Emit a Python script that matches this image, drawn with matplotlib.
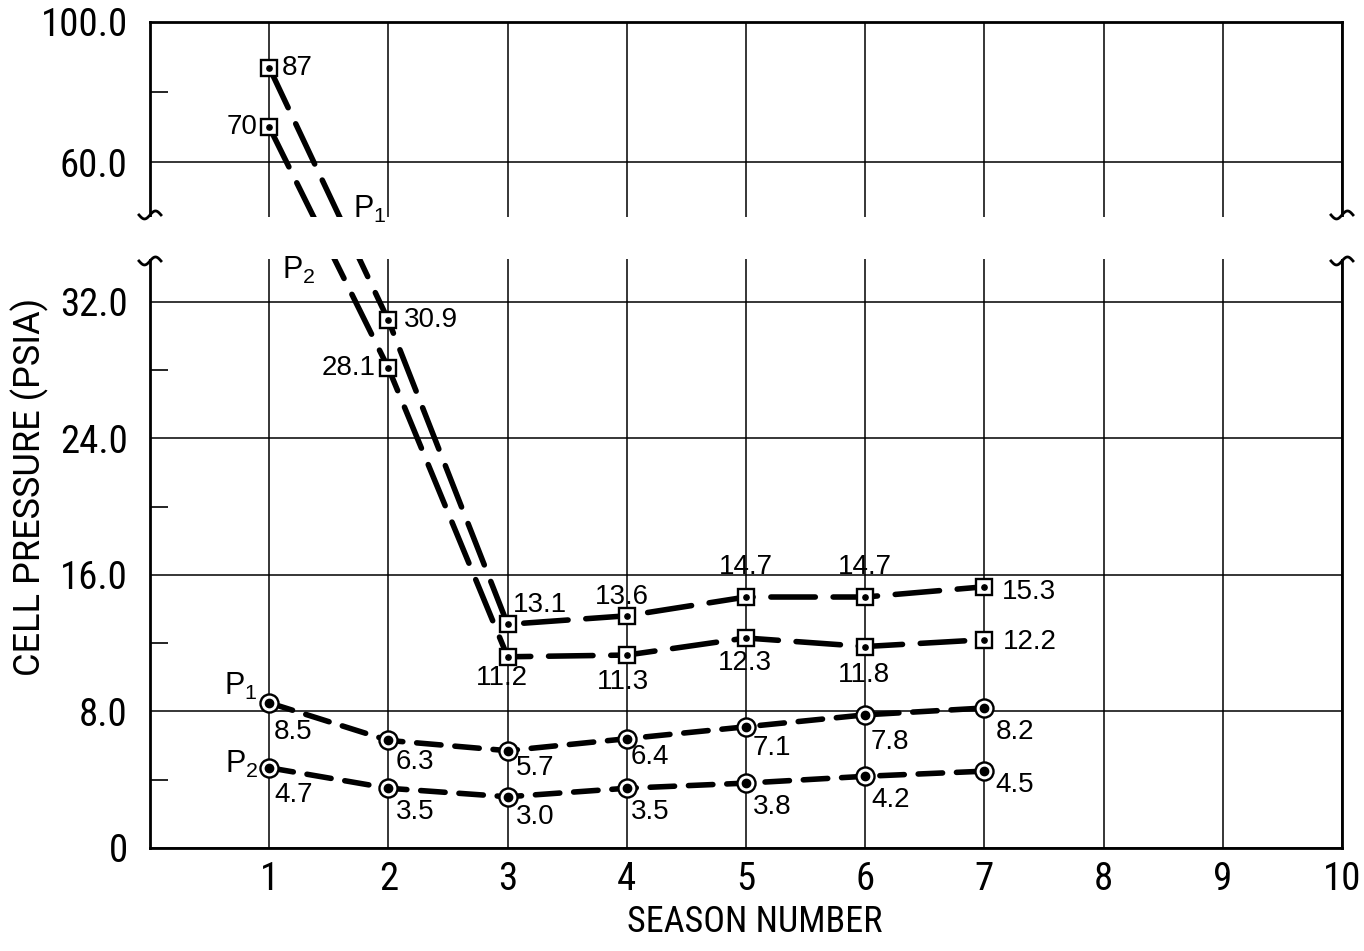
import numpy as np
import matplotlib
matplotlib.use("Agg")
import matplotlib.pyplot as plt
from matplotlib import font_manager

# Cell pressure per season, broken y axis (upper part compressed)
seasons = [1, 2, 3, 4, 5, 6, 7]
sq_p1 = [87, 30.9, 13.1, 13.6, 14.7, 14.7, 15.3]
sq_p2 = [70, 28.1, 11.2, 11.3, 12.3, 11.8, 12.2]
ci_p1 = [8.5, 6.3, 5.7, 6.4, 7.1, 7.8, 8.2]
ci_p2 = [4.7, 3.5, 3.0, 3.5, 3.8, 4.2, 4.5]

x_ticks = [1, 2, 3, 4, 5, 6, 7, 8, 9, 10]
y_ticks = [0, 8, 16, 24, 32, 60, 100]
y_tick_labels = ["0", "8.0", "16.0", "24.0", "32.0", "60.0", "100.0"]
y_minor = [4, 12, 20, 28, 80]

# axis break
BREAK_LO = 34.5
BREAK_HI = 44.3
GAP = 2.46
SQUEEZE = 0.205


def forward(v):
    v = np.asarray(v, dtype=float)
    mid = BREAK_LO + (v - BREAK_LO) * GAP / (BREAK_HI - BREAK_LO)
    hi = BREAK_LO + GAP + (v - BREAK_HI) * SQUEEZE
    return np.where(v <= BREAK_LO, v, np.where(v >= BREAK_HI, hi, mid))


def inverse(u):
    u = np.asarray(u, dtype=float)
    mid = BREAK_LO + (u - BREAK_LO) * (BREAK_HI - BREAK_LO) / GAP
    hi = BREAK_HI + (u - BREAK_LO - GAP) / SQUEEZE
    return np.where(u <= BREAK_LO, u, np.where(u >= BREAK_LO + GAP, hi, mid))


def fmt(v):
    return f"{v:.0f}" if v >= 50 else f"{v:.1f}"


def pick_font(cands, default):
    have = {f.name for f in font_manager.fontManager.ttflist}
    for c in cands:
        if c in have:
            return c
    return default


narrow = pick_font(["Roboto Condensed", "Liberation Sans Narrow", "Archivo Narrow",
                    "PT Sans Narrow", "Fira Sans Condensed", "IBM Plex Sans Condensed",
                    "Encode Sans Condensed", "Barlow Semi Condensed"], "Roboto")

# label offsets in pixels (dx, dy, ha)
sq_p1_off = [(13, 0, "left"), (15, 0, "left"), (5, 19, "left"), (-5, 19, "center"),
             (0, 30, "center"), (0, 30, "center"), (17, -5, "left")]
sq_p2_off = [(-12, 0, "right"), (-13, 0, "right"), (-6, -21, "center"), (-4, -27, "center"),
             (-1, -25, "center"), (-1, -28, "center"), (18, -2, "left")]
ci_p1_off = [(5, -29), (7, -22), (8, -17), (4, -18), (7, -21), (5, -27), (11, -24)]
ci_p2_off = [(5, -27), (7, -24), (8, -20), (4, -24), (7, -24), (6, -24), (11, -14)]

plt.rcParams["font.family"] = [narrow, "DejaVu Sans"]
plt.rcParams["mathtext.fontset"] = "custom"
plt.rcParams["mathtext.rm"] = "Liberation Sans"
val_font = dict(family=["Liberation Sans", "DejaVu Sans"], fontsize=20)

fig = plt.figure(figsize=(13.64, 9.51), dpi=100)
ax = fig.add_axes([150 / 1364, 103 / 951, 1192 / 1364, 826 / 951])
ax.set_yscale("function", functions=(forward, inverse))
ax.set_xlim(0, 10)
ax.set_ylim(0, 100)

ax.set_xticks(x_ticks)
ax.set_xticklabels([str(t) for t in x_ticks])
ax.set_yticks(y_ticks)
ax.set_yticklabels(y_tick_labels)
ax.set_yticks(y_minor, minor=True)
ax.tick_params(axis="both", which="major", length=0, labelsize=28)
ax.tick_params(axis="y", which="major", pad=16)
ax.tick_params(axis="x", which="major", pad=9)
ax.tick_params(axis="y", which="minor", direction="in", length=13, width=1.2,
               right=False)
ax.xaxis.set_minor_locator(matplotlib.ticker.NullLocator())
ax.grid(True, which="major", color="black", linewidth=1.1)
ax.set_axisbelow(True)
for s in ax.spines.values():
    s.set_linewidth(2.0)

line_kw = dict(color="black", linewidth=4, dash_capstyle="round", zorder=3)
for ys in (sq_p1, sq_p2):
    ax.plot(seasons, ys, dashes=(8, 3.2), marker="s", markersize=11,
            markerfacecolor="white", markeredgecolor="black", markeredgewidth=1.7,
            **line_kw)
    ax.plot(seasons, ys, linestyle="none", marker="o", markersize=3.8,
            color="black", zorder=4)
for ys in (ci_p1, ci_p2):
    ax.plot(seasons, ys, dashes=(4.4, 2.5), marker="o", markersize=13,
            markerfacecolor="white", markeredgecolor="black", markeredgewidth=1.7,
            **line_kw)
    ax.plot(seasons, ys, linestyle="none", marker="o", markersize=6,
            color="black", zorder=4)

# value labels
for ys, offs in ((sq_p1, sq_p1_off), (sq_p2, sq_p2_off)):
    for x, y, (dx, dy, ha) in zip(seasons, ys, offs):
        ax.annotate(fmt(y), (x, y), xytext=(dx, dy), textcoords="offset pixels",
                    ha=ha, va="center", zorder=7, **val_font)
for ys, offs in ((ci_p1, ci_p1_off), (ci_p2, ci_p2_off)):
    for x, y, (dx, dy) in zip(seasons, ys, offs):
        ax.annotate(fmt(y), (x, y), xytext=(dx, dy), textcoords="offset pixels",
                    ha="left", va="center", zorder=7, **val_font)

# series names
p1 = r"$\mathregular{P_1}$"
p2 = r"$\mathregular{P_2}$"
name_font = dict(family=["Liberation Sans", "DejaVu Sans"], fontsize=22)
ax.annotate(p1, (2, BREAK_HI), xytext=(-19, 8), textcoords="offset pixels",
            ha="center", va="center", zorder=8, **name_font)
ax.annotate(p2, (1, BREAK_LO), xytext=(30, -11), textcoords="offset pixels",
            ha="center", va="center", zorder=8, **name_font)
ax.annotate(p1, (1, ci_p1[0]), xytext=(-28, 16), textcoords="offset pixels",
            ha="center", va="center", zorder=8, **name_font)
ax.annotate(p2, (1, ci_p2[0]), xytext=(-27, 3), textcoords="offset pixels",
            ha="center", va="center", zorder=8, **name_font)

# blank out the break band, incl. spines and grid
ax.axhspan(BREAK_LO, BREAK_HI, xmin=-0.03, xmax=1.03, facecolor="white",
           edgecolor="none", zorder=5, clip_on=False)

# wavy break marks on both spines
fig.canvas.draw()
base = matplotlib.transforms.blended_transform_factory(ax.transAxes, ax.transData)
to_ax = ax.transAxes.inverted()
t = np.linspace(-1, 1, 40)
for xa in (0, 1):
    for yb, sgn in ((BREAK_HI, 1), (BREAK_LO, -1)):
        px, py = base.transform((xa, yb))
        xs = px + 11 * t
        ys = py + sgn * 2 + 4 * np.sin(np.pi * t)
        pts = to_ax.transform(np.column_stack([xs, ys]))
        ax.plot(pts[:, 0], pts[:, 1], transform=ax.transAxes, color="black",
                linewidth=2.0, clip_on=False, zorder=6)

fig.text(30 / 1364, 1 - 487 / 951, "CELL PRESSURE (PSIA)", rotation=90,
         ha="center", va="center", fontsize=26, family=["Roboto", "DejaVu Sans"])
fig.text(755 / 1364, 1 - 922 / 951, "SEASON NUMBER", ha="center",
         va="center", fontsize=26)

fig.savefig("out.png", dpi=100)
